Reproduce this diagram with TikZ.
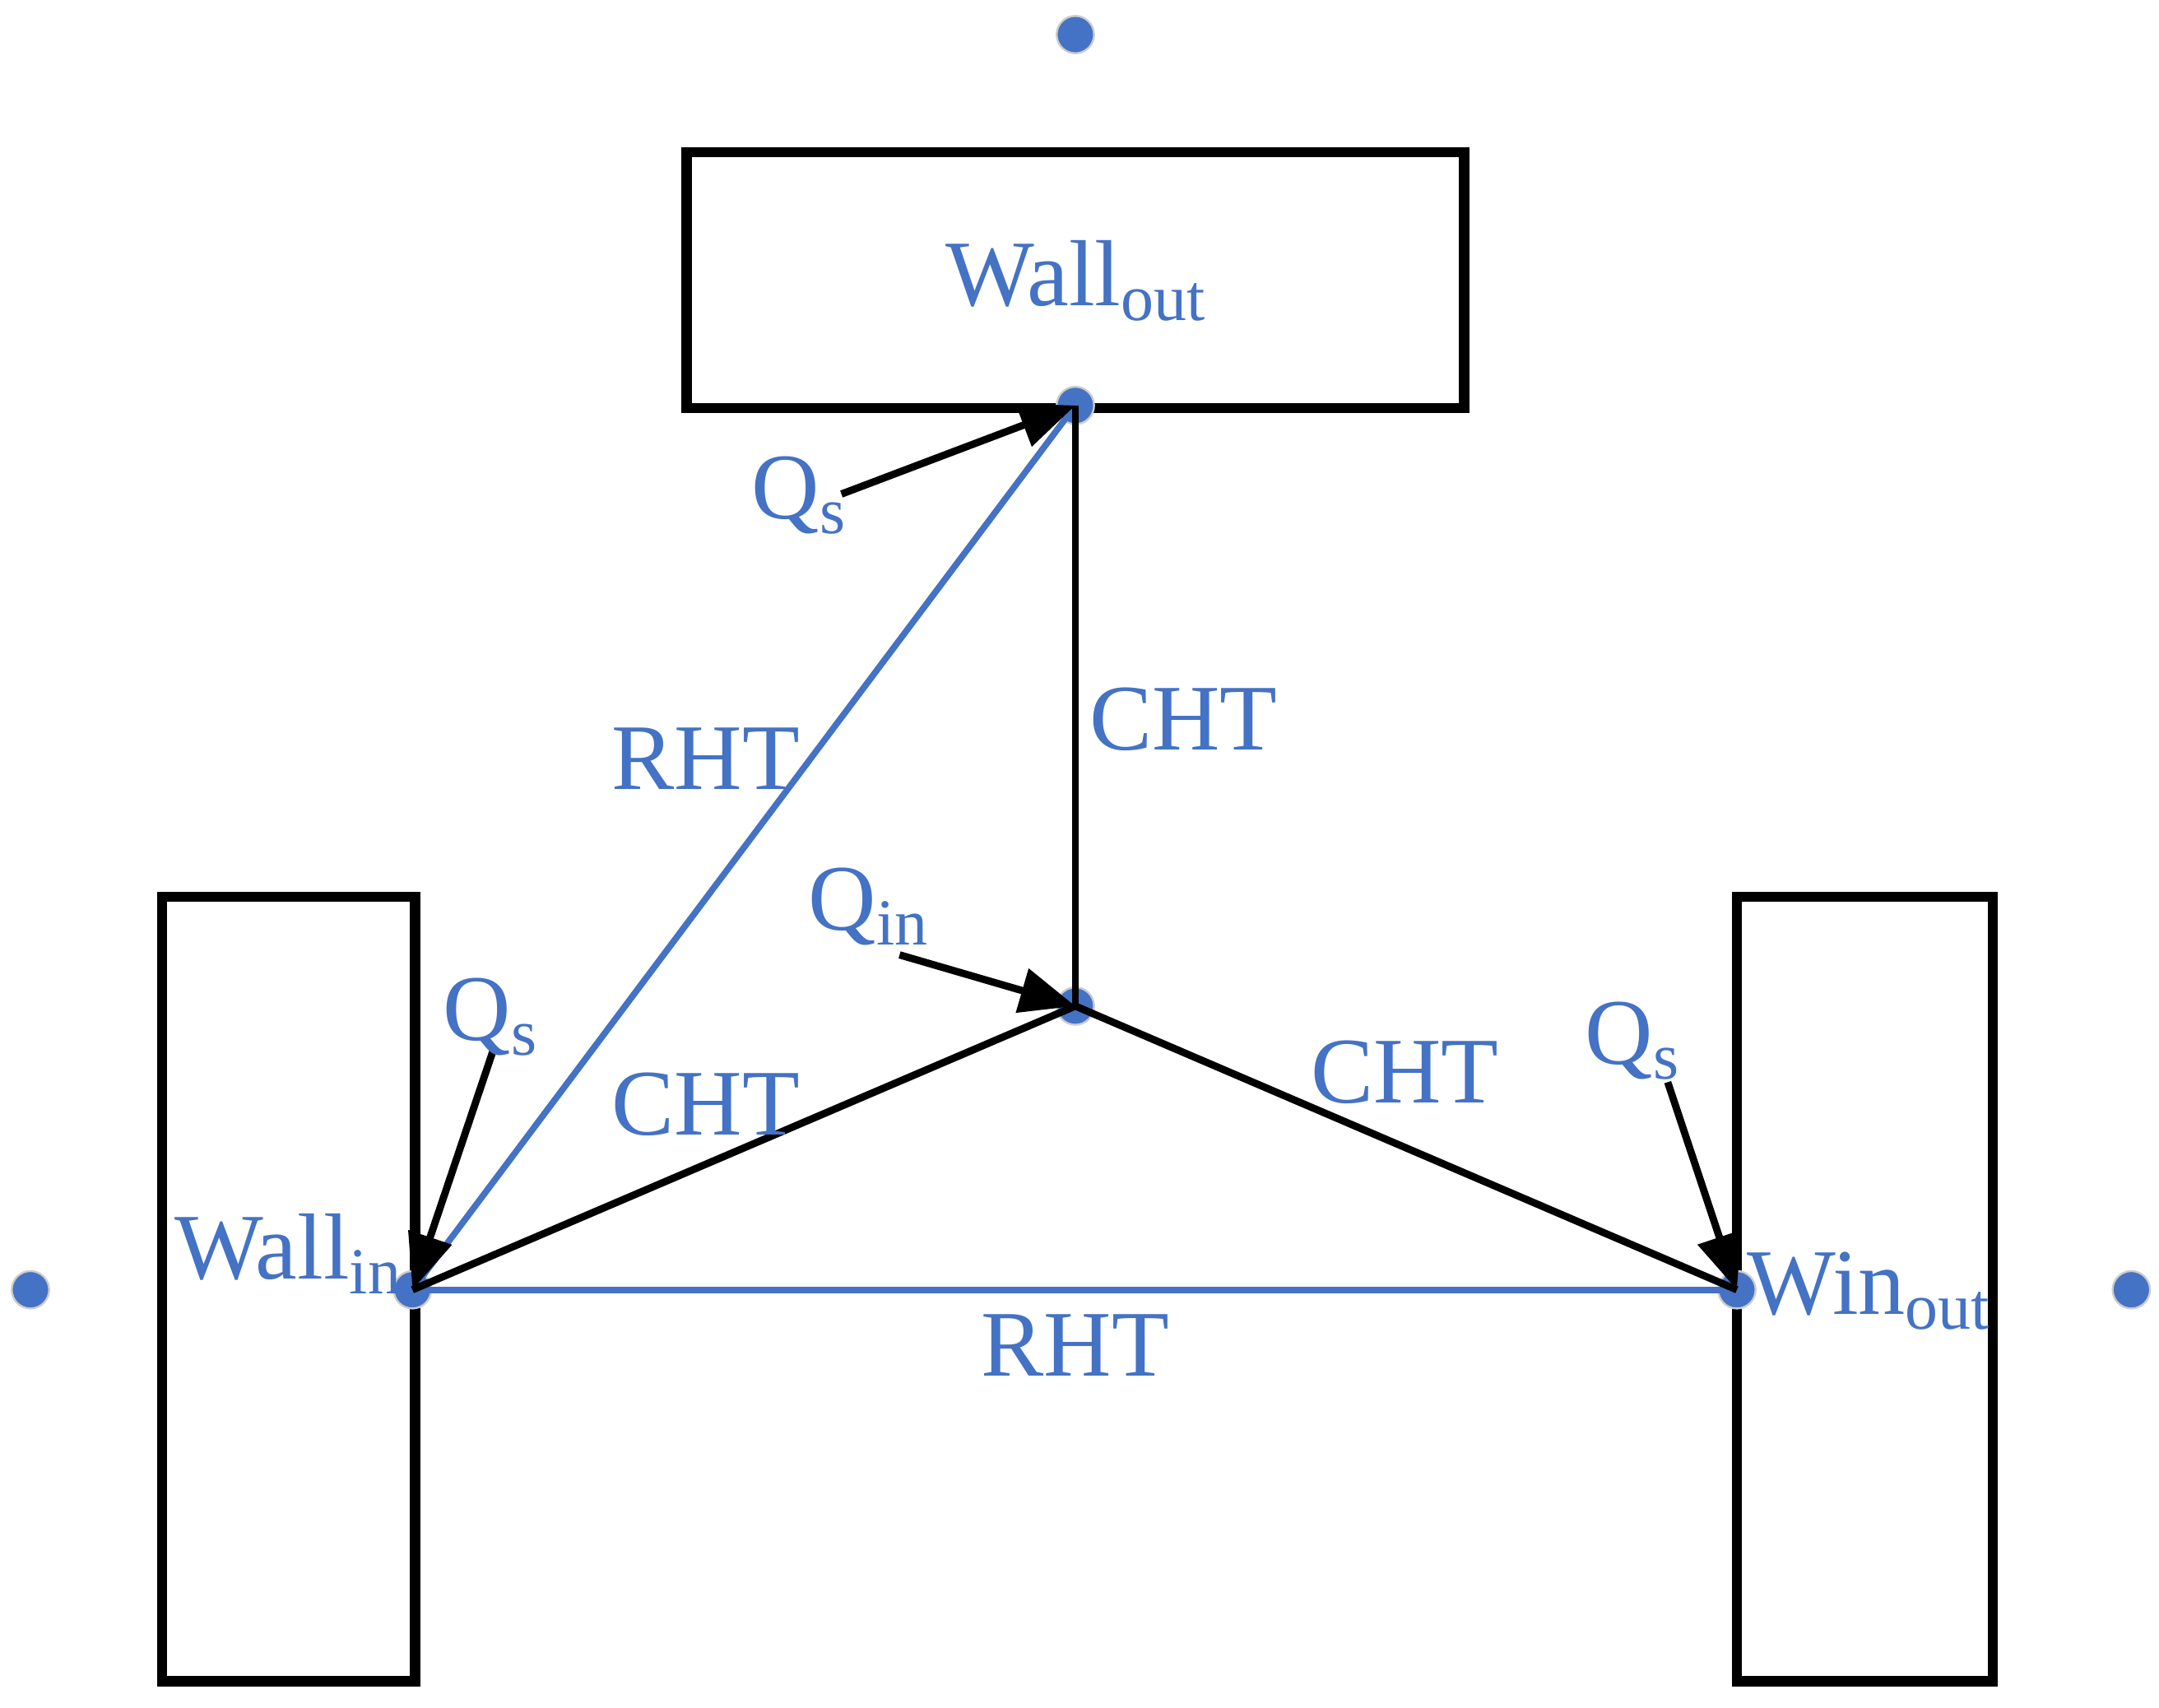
\documentclass[tikz,border=0pt]{standalone}
\usepackage{fontspec}
\setmainfont{Liberation Serif}
\usetikzlibrary{arrows.meta}
\definecolor{bl}{HTML}{4472C4}
\begin{document}
\begin{tikzpicture}[x=0.01cm,y=-0.01cm,
  box/.style={draw=black,line width=2.1pt},
  dot/.style={circle,fill=bl,draw=black!20,line width=0.4pt,inner sep=0pt,minimum size=0.27cm},
  lab/.style={text=bl,font=\fontsize{19.3}{22}\selectfont,inner sep=0pt},
  cl/.style={line width=1.5pt},
  rl/.style={draw=bl,line width=1.3pt},
  ar/.style={line width=1.5pt,-{Triangle[length=0.4cm,width=0.32cm]}}]
\useasboundingbox (0,0) rectangle (1560,1234);
\draw[box] (496,110) rectangle (1058,295);
\draw[box] (117,648) rectangle (300,1215);
\draw[box] (1255,648) rectangle (1440,1215);
\node[dot] (t) at (777,25) {};
\node[dot] (l) at (22,932) {};
\node[dot] (r) at (1540,932) {};
\node[dot] (wo) at (777,293) {};
\node[dot] (c) at (777,727) {};
\node[dot] (wi) at (298,932) {};
\node[dot] (wn) at (1255,932) {};
\draw[rl] (wi.center) -- (wo.center);
\draw[rl] (wi.center) -- (wn.center);
\draw[cl] (wo.center) -- (c.center);
\draw[cl] (wi.center) -- (c.center);
\draw[cl] (c.center) -- (wn.center);
\coordinate (q1) at (608,357);
\coordinate (q2) at (356,760);
\coordinate (q3) at (1205,782);
\coordinate (q4) at (650,690);
\draw[ar] (q1) -- (wo.center);
\draw[ar] (q2) -- (wi.center);
\draw[ar] (q3) -- (wn.center);
\draw[ar] (q4) -- (c.center);
\node[lab] (a) at (778,203) {Wall\textsubscript{out}};
\node[lab] (b) at (578,358) {Q\textsubscript{s}};
\node[lab] (d) at (355,735) {Q\textsubscript{s}};
\node[lab] (e) at (1180,752) {Q\textsubscript{s}};
\node[lab] (f) at (628,655) {Q\textsubscript{in}};
\node[lab] (g) at (510,548) {RHT};
\node[lab] (h) at (855,520) {CHT};
\node[lab] (i) at (510,798) {CHT};
\node[lab] (j) at (1015,775) {CHT};
\node[lab] (k) at (777,972) {RHT};
\node[lab,anchor=east] (m) at (292,906) {Wall\textsubscript{in}};
\node[lab,anchor=west] (n) at (1262,933) {Win\textsubscript{out}};
\end{tikzpicture}
\end{document}
